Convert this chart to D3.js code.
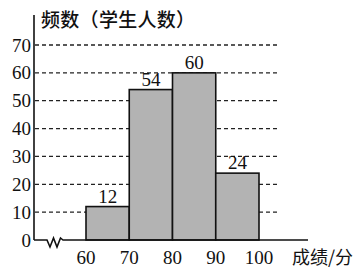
<!DOCTYPE html>
<html>
<head>
<meta charset="utf-8">
<script src="https://cdn.jsdelivr.net/npm/d3@7"></script>
<style>
  body { margin: 0; background: #fff; }
  svg { display: block; }
</style>
</head>
<body>
<div id="chart"></div>
<script>
// Score bins and student counts
const binStarts = [60, 70, 80, 90];
const binWidth = 10;
const counts = [12, 54, 60, 24];
const xTicks = [60, 70, 80, 90, 100];
const yTicks = [0, 10, 20, 30, 40, 50, 60, 70];

const width = 363;
const height = 273;

const svg = d3.select('#chart')
    .append('svg')
    .attr('width', width)
    .attr('height', height);

// Axis origin and scales
const originX = 34;
const x = d3.scaleLinear().domain([60, 100]).range([86, 259]);
const y = d3.scaleLinear().domain([0, 70]).range([240, 45]);

const numFont = '"Liberation Serif", "DejaVu Serif", serif';
const cjkFont = '"Noto Sans CJK SC", sans-serif';

// Dashed grid lines
svg.selectAll('line.grid')
    .data(yTicks.filter(d => d > 0))
    .enter()
    .append('line')
    .attr('class', 'grid')
    .attr('x1', originX + 1)
    .attr('x2', 280)
    .attr('y1', d => y(d))
    .attr('y2', d => y(d))
    .style('stroke', '#222')
    .style('stroke-width', 1.3)
    .style('stroke-dasharray', '4,3');

// Bars
svg.selectAll('rect.bar')
    .data(counts)
    .enter()
    .append('rect')
    .attr('class', 'bar')
    .attr('x', (d, i) => x(binStarts[i]))
    .attr('y', d => y(d))
    .attr('width', (d, i) => x(binStarts[i] + binWidth) - x(binStarts[i]))
    .attr('height', d => y(0) - y(d))
    .style('fill', '#b3b3b3')
    .style('stroke', '#111')
    .style('stroke-width', 1.6);

// Value labels
svg.selectAll('text.val')
    .data(counts)
    .enter()
    .append('text')
    .attr('class', 'val')
    .attr('x', (d, i) => x(binStarts[i] + binWidth / 2))
    .attr('y', d => y(d) - 4)
    .attr('text-anchor', 'middle')
    .style('font-family', numFont)
    .style('font-size', '19px')
    .style('fill', '#111')
    .text(d => d);

// Y axis line
svg.append('line')
    .attr('x1', originX).attr('x2', originX)
    .attr('y1', 15).attr('y2', y(0))
    .style('stroke', '#111')
    .style('stroke-width', 1.6);

// X axis with break mark
const xAxisPts = [
    [originX, y(0)], [47, y(0)], [50, y(0) + 7], [53.5, y(0) - 2],
    [57, y(0) + 7], [60.5, y(0) - 2], [63, y(0)], [308, y(0)]
];
svg.append('path')
    .attr('d', d3.line()(xAxisPts))
    .style('fill', 'none')
    .style('stroke', '#111')
    .style('stroke-width', 1.6);

// Y tick labels
svg.selectAll('text.ytick')
    .data(yTicks)
    .enter()
    .append('text')
    .attr('class', 'ytick')
    .attr('x', 31)
    .attr('y', d => y(d) + 6.5)
    .attr('text-anchor', 'end')
    .style('font-family', numFont)
    .style('font-size', '19px')
    .style('fill', '#111')
    .text(d => d);

// X tick labels
svg.selectAll('text.xtick')
    .data(xTicks)
    .enter()
    .append('text')
    .attr('class', 'xtick')
    .attr('x', d => x(d))
    .attr('y', 264)
    .attr('text-anchor', 'middle')
    .style('font-family', numFont)
    .style('font-size', '19px')
    .style('fill', '#111')
    .text(d => d);

// Axis titles
svg.append('text')
    .attr('x', 41)
    .attr('y', 27)
    .style('font-family', cjkFont)
    .style('font-size', '19px')
    .style('font-weight', 500)
    .style('letter-spacing', '0.3px')
    .style('fill', '#111')
    .text('频数（学生人数）');

svg.append('text')
    .attr('x', 292)
    .attr('y', 264)
    .style('font-family', cjkFont)
    .style('font-size', '18px')
    .style('fill', '#111')
    .text('成绩/分');
</script>
</body>
</html>
